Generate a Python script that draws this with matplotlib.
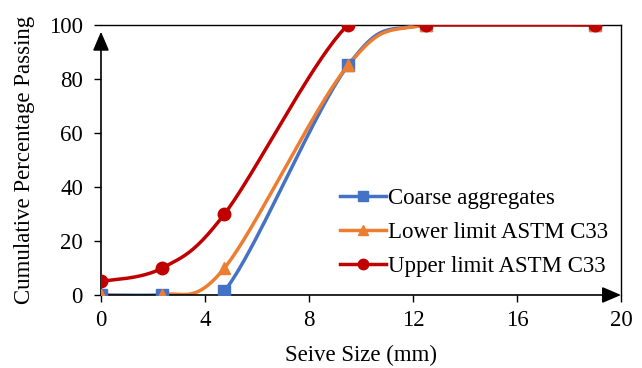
import numpy as np
import matplotlib
matplotlib.use("Agg")
from matplotlib import pyplot as plt

sieve = [0, 2.36, 4.75, 9.5, 12.5, 19]
coarse = [0, 0, 1.5, 85, 100, 100]
lower = [0, 0, 10, 85, 100, 100]
upper = [5, 10, 30, 100, 100, 100]


def smooth(x, y, n=40):
    # bezier smoothing with control points from neighbouring points
    x = np.asarray(x, float)
    y = np.asarray(y, float)
    px = np.concatenate([[x[0]], x, [x[-1]]])
    py = np.concatenate([[y[0]], y, [y[-1]]])
    xs, ys = [], []
    t = np.linspace(0, 1, n)
    for i in range(1, len(x)):
        p0 = np.array([px[i], py[i]])
        p3 = np.array([px[i + 1], py[i + 1]])
        p1 = p0 + (np.array([px[i + 1], py[i + 1]]) - np.array([px[i - 1], py[i - 1]])) / 6
        p2 = p3 - (np.array([px[i + 2], py[i + 2]]) - np.array([px[i], py[i]])) / 6
        b = ((1 - t) ** 3)[:, None] * p0 + (3 * (1 - t) ** 2 * t)[:, None] * p1 \
            + (3 * (1 - t) * t ** 2)[:, None] * p2 + (t ** 3)[:, None] * p3
        xs.extend(b[:, 0])
        ys.extend(b[:, 1])
    return xs, ys


plt.rcParams['font.family'] = ['Liberation Serif', 'DejaVu Serif']
plt.rcParams['font.size'] = 16.5

fig = plt.figure(figsize=(6.42, 3.68), dpi=100)
ax = fig.add_axes([0.1573, 0.1984, 0.81, 0.7337])

series = [
    (coarse, '#4472C4', 's', 'Coarse aggregates', 8.5),
    (lower, '#ED7D31', '^', 'Lower limit ASTM C33', 9),
    (upper, '#C00000', 'o', 'Upper limit ASTM C33', 9),
]
for vals, col, mk, lab, ms in series:
    sx, sy = smooth(sieve, vals)
    ax.plot(sx, sy, color=col, lw=2.5, zorder=3, solid_capstyle='round')
    ax.plot(sieve, vals, ls='none', marker=mk, color=col, ms=ms, zorder=4)
    ax.plot([], [], color=col, lw=2.5, marker=mk, ms=ms - 1.5, label=lab)

ax.set_xlim(0, 20)
ax.set_ylim(0, 100)
ax.set_xticks(range(0, 21, 4))
ax.set_yticks(range(0, 101, 20))
ax.tick_params(direction='out', length=5, width=1)
ax.tick_params(axis='x', pad=6)
ax.tick_params(axis='y', pad=8)
ax.set_xlabel("Seive Size (mm)", labelpad=10)
ax.set_ylabel("Cumulative Percentage Passing", labelpad=10)

ax.spines['left'].set_visible(False)
ax.spines['bottom'].set_visible(False)
for s in ['top', 'right']:
    ax.spines[s].set_linewidth(1)
    ax.spines[s].set_color('black')

arr = dict(arrowstyle='-|>,head_length=0.7,head_width=0.3', color='black', lw=1.2, shrinkA=0, shrinkB=0)
ax.annotate('', xy=(0, 0.975), xytext=(0, 0), xycoords='axes fraction', arrowprops=arr, annotation_clip=False)
ax.annotate('', xy=(1, 0), xytext=(0, 0), xycoords='axes fraction', arrowprops=arr, annotation_clip=False)

ax.legend(loc='center left', bbox_to_anchor=(0.530, 0.368), bbox_transform=fig.transFigure,
          frameon=False, handlelength=2.0, handletextpad=0.1, labelspacing=0.55,
          borderpad=0, borderaxespad=0)

fig.savefig("out.png", dpi=100)
